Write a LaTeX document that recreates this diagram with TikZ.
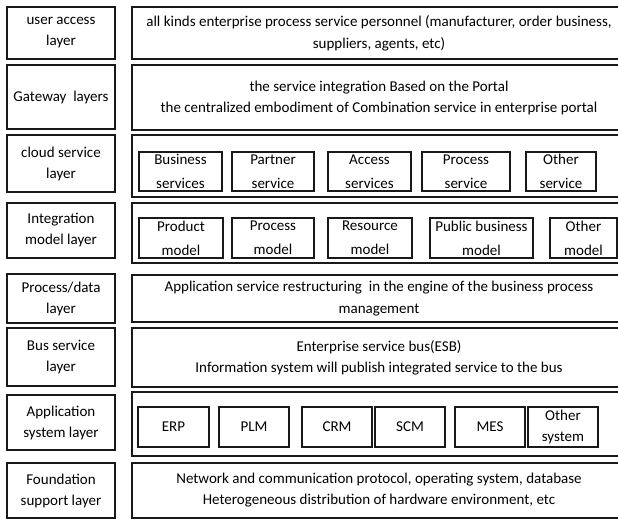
\documentclass[tikz,border=0pt]{standalone}
\usepackage{fontspec}
\setmainfont{Carlito}
\newcommand{\bx}[7][]{%
  \node[layerbox, minimum width={(#5)-(#3)}, minimum height={(#6)-(#4)}, #1]
    (#2) at ({((#3)+(#5))/2},{((#4)+(#6))/2}) {#7};}
\tikzset{
  layerbox/.style={draw=black!90, line width=1.2pt, rectangle, inner sep=0pt,
    align=center, text=black, font=\fontsize{15}{21}\selectfont},
  mainbox/.style={font=\fontsize{15}{22}\selectfont},
  subbox/.style={font=\fontsize{15}{24}\selectfont},
}
\begin{document}
\begin{tikzpicture}[x=1pt,y=-1pt]
\useasboundingbox (0,0) rectangle (618,520);
\clip (0,0) rectangle (618,520);
\fill[white] (0,0) rectangle (618,520);
% left labels
\bx{l1}{7}{7}{115}{59}{user access\\layer}
\bx{l2}{7}{65}{115}{129}{Gateway\ \ layers}
\bx{l3}{7}{135}{115}{192}{cloud service\\layer}
\bx{l4}{7}{203}{115}{258}{Integration\\model layer}
\bx{l5}{7}{274}{115}{323}{Process/data\\layer}
\bx{l6}{7}{328}{115}{386}{Bus service\\layer}
\bx{l7}{7}{395}{115}{450}{Application\\system layer}
\bx{l8}{7}{463}{115}{518}{Foundation\\support layer}
% main boxes
\bx[mainbox]{m1}{132}{7}{626}{59}{all kinds enterprise process service personnel (manufacturer, order business,\\suppliers, agents, etc)}
\bx{m2}{132}{65}{626}{130}{the service integration Based on the Portal\\the centralized embodiment of Combination service in enterprise portal}
\bx{m3}{132}{135}{626}{197}{}
\bx{m4}{132}{203}{626}{263}{}
\bx[mainbox]{m5}{132}{275}{626}{322}{Application service restructuring\ \ in the engine of the business process\\management}
\bx{m6}{132}{328}{626}{387}{Enterprise service bus(ESB)\\Information system will publish integrated service to the bus}
\bx{m7}{132}{392}{626}{456}{}
\bx{m8}{132}{463}{626}{518}{Network and communication protocol, operating system, database\\Heterogeneous distribution of hardware environment, etc}
% cloud services
\bx[subbox]{c1}{139}{152}{222}{191}{Business\\services}
\bx[subbox]{c2}{232}{152}{314}{191}{Partner\\service}
\bx[subbox]{c3}{328}{152}{411}{191}{Access\\services}
\bx[subbox]{c4}{422}{152}{510}{191}{Process\\service}
\bx[subbox]{c5}{526}{152}{596}{191}{Other\\service}
% integration models
\bx[subbox]{i1}{139}{218}{223}{258}{Product\\model}
\bx[subbox]{i2}{232}{218}{314}{258}{Process\\model}
\bx[subbox]{i3}{328}{218}{412}{258}{Resource\\model}
\bx[subbox]{i4}{430}{218}{533}{258}{Public business\\model}
\bx[subbox]{i5}{550}{218}{617}{258}{Other\\model}
% application systems
\bx{a1}{138}{407}{209}{447}{ERP}
\bx{a2}{219}{407}{289}{447}{PLM}
\bx{a3}{302}{407}{372}{447}{CRM}
\bx{a4}{375}{407}{445}{447}{SCM}
\bx{a5}{455}{407}{525}{447}{MES}
\bx{a6}{528}{407}{598}{447}{Other\\system}
\end{tikzpicture}
\end{document}
